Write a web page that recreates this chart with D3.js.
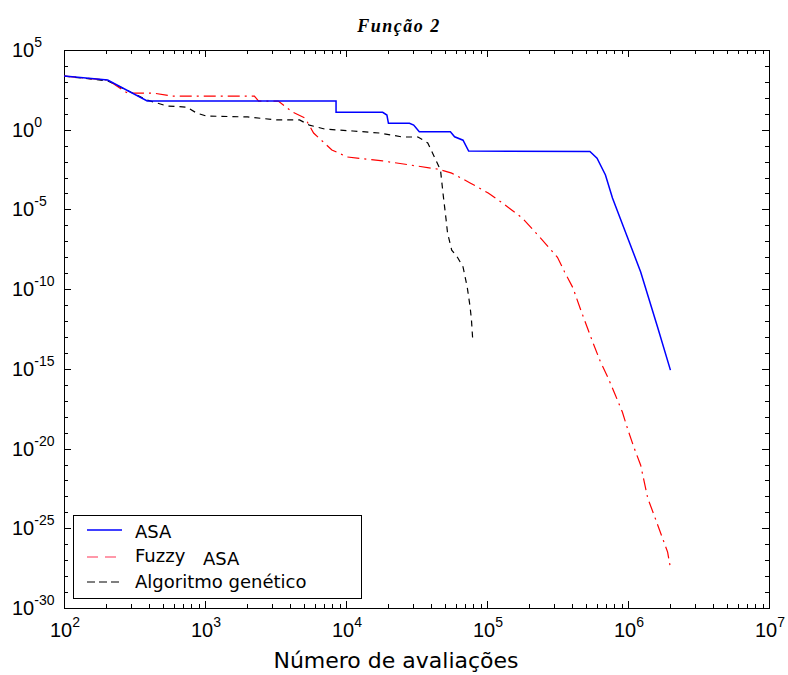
<!DOCTYPE html>
<html><head><meta charset="utf-8">
<script src="https://cdn.jsdelivr.net/npm/d3@7"></script>
<style>body{margin:0;background:#fff}svg{display:block}</style>
</head><body>
<svg id="c" width="788" height="675"></svg>
<script>
const titleText = "Função 2";
const xLabel = "Número de avaliações";
const xTickExp = [2, 3, 4, 5, 6, 7];
const yTickExp = [5, 0, -5, -10, -15, -20, -25, -30];
const seriesNames = ["ASA", "Fuzzy", "Algoritmo genético"];

const asaX = [100, 204, 389, 8500, 8500, 18200, 19500, 20000, 28200, 30200, 33100, 55000, 58900, 67600, 74100, 537000, 603000, 692000, 776000, 977000, 1.23e6, 1.62e6, 2.0e6];
const asaY = [2.3e3, 1.3e3, 63, 63, 12.3, 12.3, 8.3, 2.5, 2.5, 1.95, 0.74, 0.74, 0.36, 0.22, 0.046, 0.043, 0.0166, 1.45e-3, 5.2e-5, 2.5e-7, 1.2e-9, 4.2e-13, 8.3e-16];

const fuzzyX = [100, 204, 282, 427, 589, 2240, 2400, 3310, 4170, 5130, 5890, 7940, 10200, 18200, 44700, 56200, 75900, 102000, 129000, 178000, 240000, 316000, 355000, 407000, 457000, 562000, 631000, 724000, 813000, 912000, 1.0e6, 1.10e6, 1.23e6, 1.38e6, 1.55e6, 1.91e6, 2.0e6];
const fuzzyY = [2.3e3, 1.3e3, 200, 200, 129, 129, 63, 63, 12.9, 5.4, 0.62, 0.054, 0.0195, 0.011, 3.4e-3, 1.9e-3, 4.6e-4, 1.07e-4, 2.5e-5, 2.9e-6, 1.6e-7, 1.0e-8, 1.2e-9, 1.2e-10, 6.5e-12, 4.8e-14, 3.5e-15, 2.6e-16, 2.3e-17, 1.95e-18, 1.45e-19, 1.23e-20, 9.1e-22, 7.8e-24, 5.0e-25, 3.2e-27, 3.2e-28];

const gaX = [100, 204, 389, 537, 741, 871, 1020, 2000, 3240, 4680, 5500, 7080, 11200, 17400, 25100, 32400, 38000, 42700, 46800, 49000, 51300, 52500, 56200, 61700, 67600, 72400, 75900, 77600, 79400];
const gaY = [2.3e3, 1.15e3, 72, 31, 26, 11.2, 7.2, 6.3, 4.1, 4.1, 1.95, 1.1, 0.83, 0.62, 0.35, 0.35, 0.148, 0.0166, 2.95e-3, 6.9e-5, 2.2e-6, 3.3e-7, 2.8e-8, 1.0e-8, 2.5e-9, 1.35e-10, 7.6e-12, 1.15e-12, 4.8e-14];

const svg = d3.select("#c");
const L = 64, R = 769, T = 50, B = 608;
const x = d3.scaleLog().domain([1e2, 1e7]).range([L, R]);
const y = d3.scaleLog().domain([1e-30, 1e5]).range([B, T]);
const FONT = "'Liberation Sans', Arial, sans-serif";
const WFONT = "'DejaVu Sans', Verdana, sans-serif";

svg.append("text").attr("x", 399).attr("y", 32).attr("text-anchor", "middle")
  .attr("font-family", "'Liberation Serif', 'Times New Roman', serif")
  .attr("font-weight", "bold").attr("font-style", "italic").attr("font-size", 18)
  .attr("letter-spacing", 1.5)
  .text(titleText);

// ticks
const g = svg.append("g").attr("stroke", "#000").attr("stroke-width", 1).attr("shape-rendering", "crispEdges");
const xt = [];
for (let e = 2; e < 7; e++) for (let m = 1; m < 10; m++) xt.push(m * Math.pow(10, e));
xt.push(1e7);
xt.forEach(v => {
  const major = Math.abs(Math.log10(v) - Math.round(Math.log10(v))) < 1e-9;
  const len = major ? 7 : 4;
  const px = Math.round(x(v)) + 0.5;
  g.append("line").attr("x1", px).attr("x2", px).attr("y1", B).attr("y2", B - len);
  g.append("line").attr("x1", px).attr("x2", px).attr("y1", T).attr("y2", T + len);
});
for (let e = -30; e <= 5; e++) {
  const len = (e % 5 === 0) ? 7 : 4;
  const py = Math.round(y(Math.pow(10, e))) + 0.5;
  g.append("line").attr("x1", L).attr("x2", L + len).attr("y1", py).attr("y2", py);
  g.append("line").attr("x1", R).attr("x2", R - len).attr("y1", py).attr("y2", py);
}
g.append("rect").attr("x", L + 0.5).attr("y", T + 0.5).attr("width", R - L).attr("height", B - T).attr("fill", "none");

// tick labels
xTickExp.forEach(e => {
  const t = svg.append("text").attr("x", x(Math.pow(10, e)) + 1).attr("y", 637)
    .attr("text-anchor", "middle").attr("font-family", FONT).attr("font-size", 20);
  t.append("tspan").text("10");
  t.append("tspan").attr("dy", -10).attr("font-size", 14).text(String(e));
});
yTickExp.forEach(e => {
  const t = svg.append("text").attr("x", 12).attr("y", y(Math.pow(10, e)) + 7)
    .attr("font-family", FONT).attr("font-size", 20);
  t.append("tspan").text("10");
  t.append("tspan").attr("dy", -10).attr("font-size", 14).text(String(e));
});

svg.append("text").attr("x", 396).attr("y", 668).attr("text-anchor", "middle")
  .attr("font-family", WFONT).attr("font-size", 22).text(xLabel);

// series
svg.append("clipPath").attr("id", "clip").append("rect").attr("x", L).attr("y", T).attr("width", R - L).attr("height", B - T);
const line = d3.line().x(d => x(d[0])).y(d => y(d[1]));
const plot = svg.append("g").attr("clip-path", "url(#clip)");
const zipd = (a, b) => a.map((v, i) => [v, b[i]]);
plot.append("path").datum(zipd(gaX, gaY)).attr("d", line).attr("fill", "none")
  .attr("stroke", "#000").attr("stroke-width", 1.2).attr("stroke-dasharray", "6,5");
plot.append("path").datum(zipd(fuzzyX, fuzzyY)).attr("d", line).attr("fill", "none")
  .attr("stroke", "#ff0000").attr("stroke-width", 1.2).attr("stroke-dasharray", "12,5,2,5");
plot.append("path").datum(zipd(asaX, asaY)).attr("d", line).attr("fill", "none")
  .attr("stroke", "#0000ff").attr("stroke-width", 1.5);

// legend
const lg = svg.append("g");
lg.append("rect").attr("x", 73.5).attr("y", 515.5).attr("width", 288).attr("height", 83)
  .attr("fill", "#fff").attr("stroke", "#000").attr("stroke-width", 1);
const items = [
  {y: 530, stroke: "#0000ff", dash: null, w: 1.5},
  {y: 557, stroke: "#ff3355", dash: "11,7", w: 1.2},
  {y: 582, stroke: "#000", dash: "8,4", w: 1.2}
];
items.forEach((it, i) => {
  const l = lg.append("line").attr("x1", 87).attr("x2", 122).attr("y1", it.y).attr("y2", it.y)
    .attr("stroke", it.stroke).attr("stroke-width", it.w);
  if (it.dash) l.attr("stroke-dasharray", it.dash);
});
const lt = (xx, yy, s) => lg.append("text").attr("x", xx).attr("y", yy)
  .attr("font-family", WFONT).attr("font-size", 18).text(s);
lt(135, 538, seriesNames[0]);
lt(135, 562, seriesNames[1]);
lt(203, 565, seriesNames[0]);
lt(135, 588, seriesNames[2]);
</script>
</body></html>
